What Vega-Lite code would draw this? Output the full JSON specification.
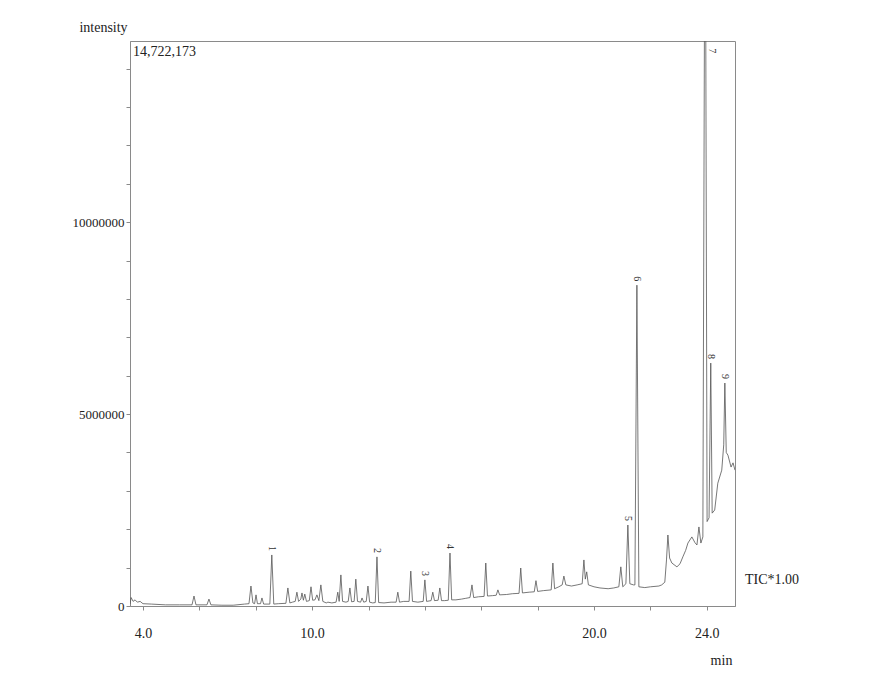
{
  "$schema": "https://vega.github.io/schema/vega-lite/v6.json",
  "width": 605,
  "height": 565,
  "autosize": {"type": "none"},
  "padding": {"left": 130, "top": 41, "right": 137, "bottom": 73},
  "background": "#ffffff",
  "config": {
    "font": "Liberation Serif",
    "view": {"stroke": "#8a8a8a", "strokeWidth": 1},
    "axis": {"grid": false, "domainColor": "#8a8a8a", "tickColor": "#8a8a8a", "labelColor": "#222222", "titleColor": "#222222", "labelFont": "Liberation Serif", "titleFont": "Liberation Serif", "titleFontWeight": "normal"}
  },
  "datasets": {
    "tic": [
      {"t":3.54,"i":50000},{"t":3.58,"i":220000},{"t":3.65,"i":120000},{"t":3.72,"i":160000},{"t":3.80,"i":100000},{"t":3.90,"i":120000},{"t":4.00,"i":60000},{"t":4.30,"i":50000},{"t":4.80,"i":30000},{"t":5.30,"i":30000},
      {"t":5.74,"i":30000},{"t":5.81,"i":260000},{"t":5.88,"i":30000},{"t":6.27,"i":30000},{"t":6.34,"i":180000},{"t":6.41,"i":30000},{"t":6.80,"i":20000},{"t":7.20,"i":20000},{"t":7.60,"i":50000},
      {"t":7.76,"i":60000},{"t":7.83,"i":520000},{"t":7.90,"i":80000},{"t":7.96,"i":60000},{"t":8.01,"i":290000},{"t":8.06,"i":60000},{"t":8.17,"i":60000},{"t":8.22,"i":210000},{"t":8.28,"i":50000},
      {"t":8.50,"i":50000},{"t":8.57,"i":1330000},{"t":8.64,"i":50000},{"t":8.80,"i":60000},{"t":9.07,"i":70000},{"t":9.14,"i":470000},{"t":9.21,"i":80000},{"t":9.30,"i":100000},{"t":9.40,"i":120000},
      {"t":9.46,"i":360000},{"t":9.52,"i":120000},{"t":9.60,"i":180000},{"t":9.64,"i":340000},{"t":9.69,"i":150000},{"t":9.74,"i":310000},{"t":9.80,"i":120000},{"t":9.90,"i":140000},{"t":9.96,"i":500000},
      {"t":10.02,"i":150000},{"t":10.10,"i":160000},{"t":10.17,"i":290000},{"t":10.24,"i":140000},{"t":10.31,"i":550000},{"t":10.38,"i":120000},{"t":10.50,"i":80000},{"t":10.56,"i":100000},{"t":10.70,"i":80000},
      {"t":10.85,"i":100000},{"t":10.91,"i":360000},{"t":10.96,"i":120000},{"t":11.02,"i":810000},{"t":11.08,"i":120000},{"t":11.20,"i":100000},{"t":11.28,"i":120000},{"t":11.34,"i":470000},{"t":11.40,"i":110000},
      {"t":11.49,"i":120000},{"t":11.55,"i":700000},{"t":11.61,"i":120000},{"t":11.72,"i":100000},{"t":11.77,"i":210000},{"t":11.83,"i":100000},{"t":11.92,"i":120000},{"t":11.98,"i":520000},{"t":12.04,"i":100000},
      {"t":12.15,"i":80000},{"t":12.24,"i":90000},{"t":12.30,"i":1280000},{"t":12.36,"i":90000},{"t":12.55,"i":80000},{"t":12.80,"i":100000},{"t":12.98,"i":100000},{"t":13.04,"i":360000},{"t":13.10,"i":100000},
      {"t":13.25,"i":120000},{"t":13.44,"i":120000},{"t":13.50,"i":910000},{"t":13.56,"i":120000},{"t":13.75,"i":100000},{"t":13.94,"i":120000},{"t":14.00,"i":680000},{"t":14.06,"i":120000},{"t":14.22,"i":140000},
      {"t":14.28,"i":360000},{"t":14.34,"i":140000},{"t":14.47,"i":150000},{"t":14.53,"i":470000},{"t":14.59,"i":140000},{"t":14.70,"i":140000},{"t":14.83,"i":150000},{"t":14.89,"i":1380000},{"t":14.95,"i":160000},
      {"t":15.10,"i":160000},{"t":15.30,"i":180000},{"t":15.45,"i":200000},{"t":15.60,"i":220000},{"t":15.67,"i":550000},{"t":15.73,"i":220000},{"t":15.90,"i":240000},{"t":16.10,"i":250000},{"t":16.16,"i":1120000},
      {"t":16.22,"i":260000},{"t":16.40,"i":270000},{"t":16.53,"i":280000},{"t":16.59,"i":420000},{"t":16.65,"i":290000},{"t":16.90,"i":300000},{"t":17.10,"i":320000},{"t":17.34,"i":330000},{"t":17.40,"i":990000},
      {"t":17.46,"i":340000},{"t":17.70,"i":360000},{"t":17.88,"i":370000},{"t":17.94,"i":660000},{"t":18.00,"i":380000},{"t":18.20,"i":400000},{"t":18.48,"i":420000},{"t":18.54,"i":1120000},{"t":18.60,"i":450000},
      {"t":18.75,"i":500000},{"t":18.87,"i":550000},{"t":18.93,"i":780000},{"t":19.00,"i":550000},{"t":19.20,"i":520000},{"t":19.40,"i":550000},{"t":19.58,"i":580000},{"t":19.64,"i":1200000},{"t":19.69,"i":700000},
      {"t":19.74,"i":890000},{"t":19.80,"i":550000},{"t":20.00,"i":500000},{"t":20.21,"i":470000},{"t":20.50,"i":450000},{"t":20.70,"i":470000},{"t":20.88,"i":500000},{"t":20.95,"i":1020000},{"t":21.02,"i":500000},
      {"t":21.13,"i":580000},{"t":21.20,"i":2110000},{"t":21.27,"i":580000},{"t":21.40,"i":550000},{"t":21.45,"i":550000},{"t":21.52,"i":8360000},{"t":21.59,"i":500000},{"t":21.80,"i":480000},{"t":22.00,"i":500000},
      {"t":22.30,"i":520000},{"t":22.40,"i":550000},{"t":22.51,"i":620000},{"t":22.57,"i":1200000},{"t":22.62,"i":1850000},{"t":22.68,"i":1250000},{"t":22.76,"i":1120000},{"t":22.94,"i":1020000},{"t":23.05,"i":1100000},
      {"t":23.15,"i":1280000},{"t":23.25,"i":1450000},{"t":23.33,"i":1640000},{"t":23.47,"i":1800000},{"t":23.58,"i":1650000},{"t":23.65,"i":1590000},{"t":23.72,"i":2060000},{"t":23.79,"i":1640000},{"t":23.86,"i":1800000},
      {"t":23.92,"i":16000000},{"t":23.96,"i":16000000},{"t":24.01,"i":2200000},{"t":24.08,"i":2300000},{"t":24.14,"i":6330000},{"t":24.19,"i":2420000},{"t":24.28,"i":2500000},{"t":24.39,"i":3200000},{"t":24.53,"i":3540000},
      {"t":24.60,"i":4200000},{"t":24.64,"i":5810000},{"t":24.69,"i":4000000},{"t":24.75,"i":3930000},{"t":24.86,"i":3620000},{"t":24.93,"i":3730000},{"t":25.00,"i":3540000}
    ],
    "peaks": [
      {"t":8.57,"i":1330000,"label":"1"},
      {"t":12.30,"i":1280000,"label":"2"},
      {"t":14.00,"i":680000,"label":"3"},
      {"t":14.89,"i":1380000,"label":"4"},
      {"t":21.20,"i":2110000,"label":"5"},
      {"t":21.52,"i":8360000,"label":"6"},
      {"t":24.18,"i":14300000,"label":"7"},
      {"t":24.14,"i":6330000,"label":"8"},
      {"t":24.64,"i":5810000,"label":"9"}
    ]
  },
  "layer": [
    {
      "data": {"name": "tic"},
      "mark": {"type": "line", "color": "#555555", "strokeWidth": 0.8, "clip": true},
      "encoding": {
        "x": {
          "field": "t", "type": "quantitative",
          "scale": {"domain": [3.54, 25.0], "nice": false, "zero": false},
          "axis": {
            "title": "min", "titleFontSize": 14, "titleX": 591, "titleY": 54, "titleAlign": "center", "titleBaseline": "middle",
            "values": [4,5,6,7,8,9,10,11,12,13,14,15,16,17,18,19,20,21,22,23,24,25],
            "labelExpr": "(datum.value == 4 || datum.value == 10 || datum.value == 20 || datum.value == 24) ? format(datum.value, '.1f') : ''",
            "labelFontSize": 14, "labelPadding": 16, "tickSize": 4, "labelFlush": false, "labelOverlap": false
          }
        },
        "y": {
          "field": "i", "type": "quantitative",
          "scale": {"domain": [0, 14722173], "nice": false, "zero": true},
          "axis": {
            "title": "intensity", "titleAngle": 0, "titleFontSize": 14, "titleX": -27, "titleY": -14, "titleAlign": "center", "titleBaseline": "middle",
            "values": [0,1000000,2000000,3000000,4000000,5000000,6000000,7000000,8000000,9000000,10000000,11000000,12000000,13000000,14000000],
            "labelExpr": "datum.value % 5000000 == 0 ? format(datum.value, 'd') : ''",
            "labelFontSize": 13, "labelPadding": 2, "tickSize": 4, "labelFlush": false, "labelOverlap": false
          }
        }
      }
    },
    {
      "data": {"name": "peaks"},
      "mark": {"type": "text", "angle": 90, "align": "right", "baseline": "middle", "dx": -4, "fontSize": 10, "color": "#333333"},
      "encoding": {
        "x": {"field": "t", "type": "quantitative"},
        "y": {"field": "i", "type": "quantitative"},
        "text": {"field": "label"}
      }
    },
    {
      "data": {"values": [{"t": 3.54, "i": 14722173, "txt": "14,722,173"}]},
      "mark": {"type": "text", "align": "left", "baseline": "top", "dx": 3, "dy": 4, "fontSize": 14, "color": "#222222"},
      "encoding": {
        "x": {"field": "t", "type": "quantitative"},
        "y": {"field": "i", "type": "quantitative"},
        "text": {"field": "txt"}
      }
    },
    {
      "data": {"values": [{"t": 25.0, "i": 680000, "txt": "TIC*1.00"}]},
      "mark": {"type": "text", "align": "left", "baseline": "middle", "dx": 10, "fontSize": 14, "color": "#222222"},
      "encoding": {
        "x": {"field": "t", "type": "quantitative"},
        "y": {"field": "i", "type": "quantitative"},
        "text": {"field": "txt"}
      }
    }
  ]
}
